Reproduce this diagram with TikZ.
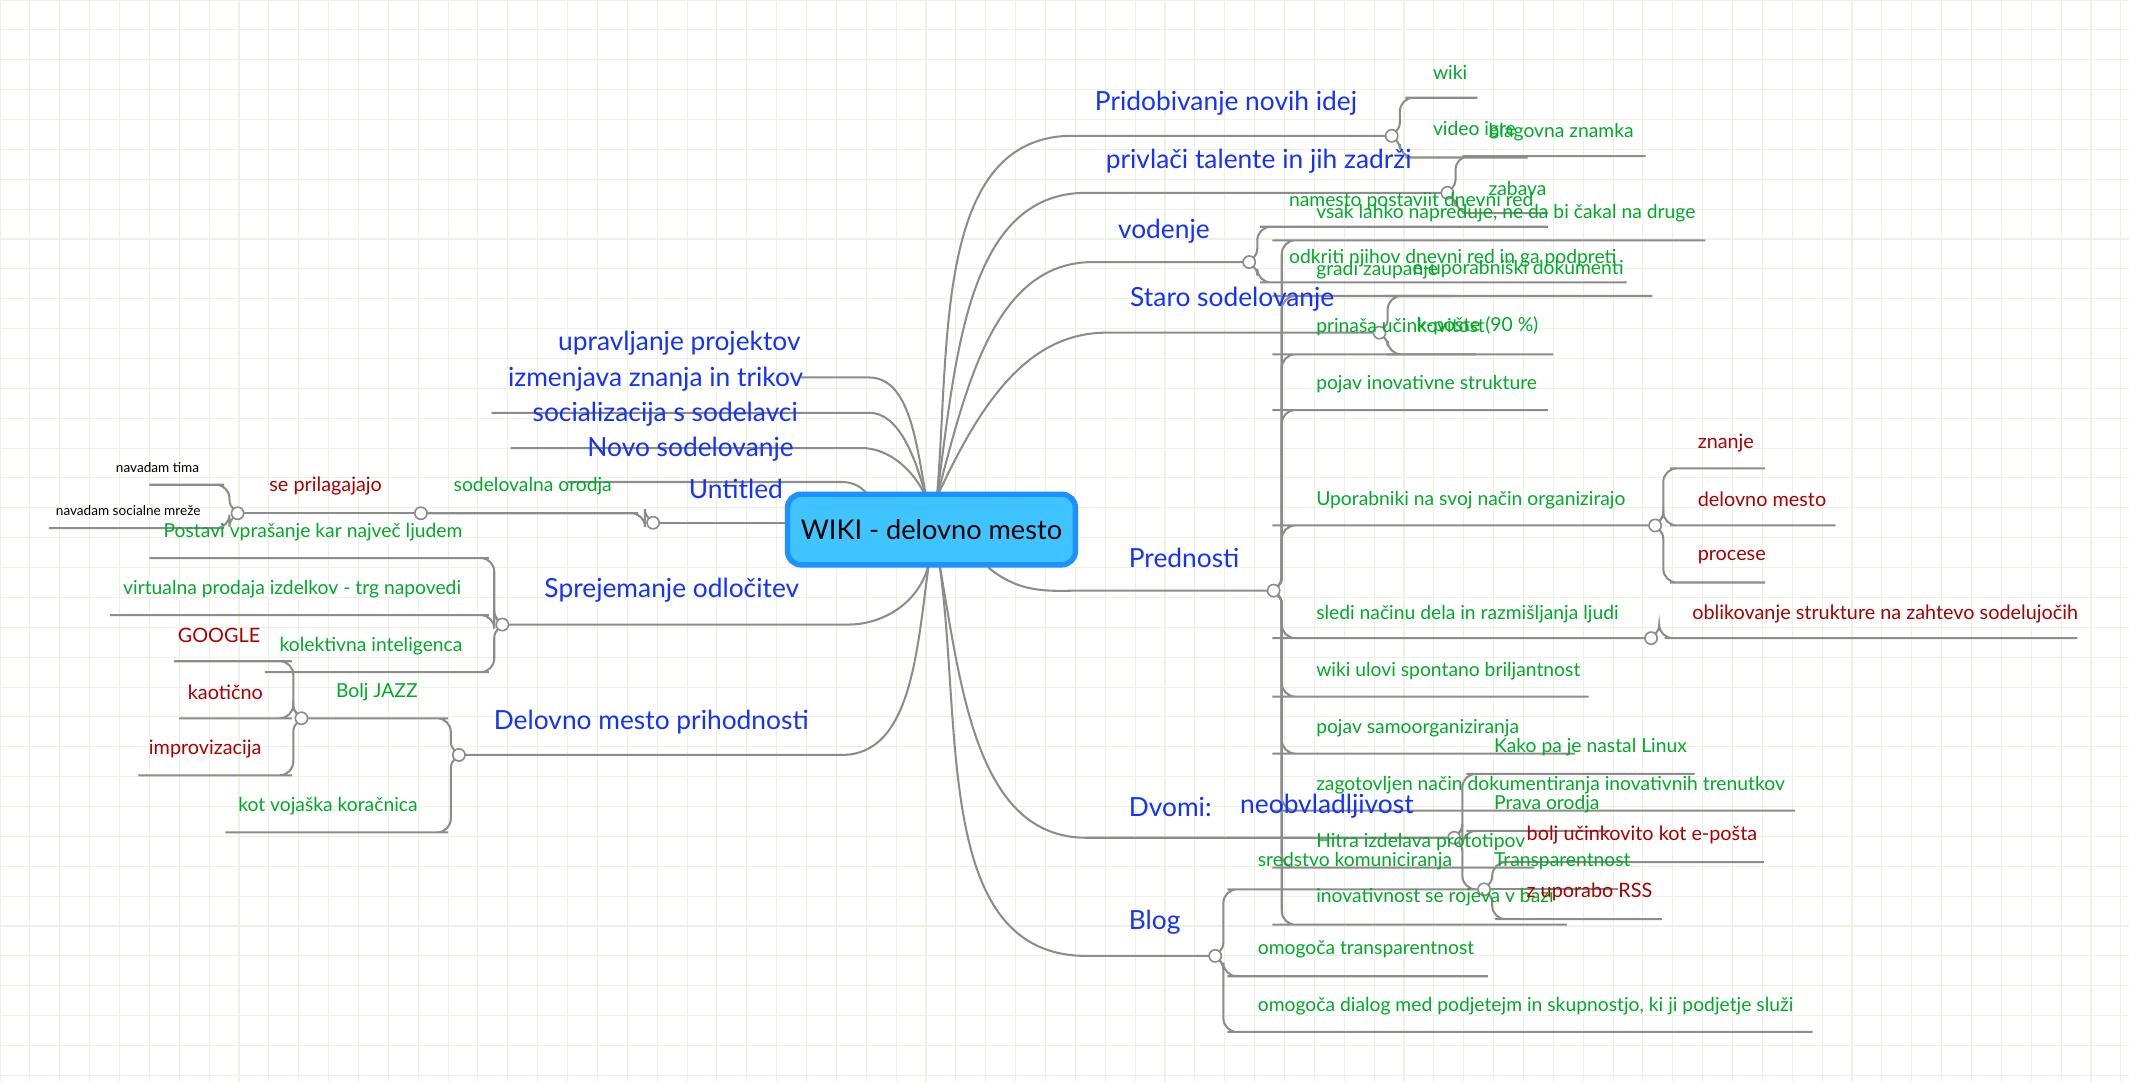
\documentclass[tikz,border=0pt]{standalone}
\usepackage{fontspec}
\setmainfont{Lato}
\definecolor{tb}{RGB}{20,50,255}
\definecolor{tg}{RGB}{0,170,40}
\definecolor{tr}{RGB}{170,0,0}
\definecolor{ln}{RGB}{140,140,140}
\definecolor{gridc}{RGB}{236,242,228}
\tikzset{
 conn/.style={draw=ln,line width=0.75pt,rounded corners=5pt},
 jn/.style={circle,draw=ln,fill=white,line width=0.6pt,minimum size=4.5pt,inner sep=0pt},
 blu/.style={text=tb,font=\fontsize{9.7}{11}\selectfont,inner sep=0pt},
 grn/.style={text=tg,font=\fontsize{7.1}{8}\selectfont,inner sep=0pt},
 red/.style={text=tr,font=\fontsize{7.3}{8}\selectfont,inner sep=0pt},
 blk/.style={text=black,font=\fontsize{5}{6}\selectfont,inner sep=0pt},
 wiki/.style={rounded corners=5pt,draw={rgb,255:red,30;green,144;blue,255},line width=2pt,fill={rgb,255:red,64;green,196;blue,255},minimum width=106pt,minimum height=26pt,font=\fontsize{10}{12}\selectfont}
}
\newcommand\R[4]{\draw[conn] (#1) -- ++(6,0) |- (#2,#4) -- (#3,#4);}
\newcommand\Lf[4]{\draw[conn] (#1) -- ++(-6,0) |- (#2,#4) -- (#3,#4);}
\newcommand\tw[4]{\node[#1,anchor=west] at (#2,#3) {#4};}
\newcommand\te[4]{\node[#1,anchor=east] at (#2,#3) {#4};}
\begin{document}
\begin{tikzpicture}[x=0.5pt,y=-0.5pt]
\useasboundingbox (0,0) rectangle (1568,797);
\fill[white] (0,0) rectangle (1568,797);
\foreach \i in {0,22,...,1568} \draw[gridc,line width=0.4pt] (\i,0) -- (\i,797);
\foreach \j in {0,22,...,797} \draw[gridc,line width=0.4pt] (0,\j) -- (1568,\j);
% junction coordinates
\coordinate (c1) at (1025,100); \coordinate (c2) at (1066,142); \coordinate (c3) at (920,193);
\coordinate (c4) at (1016,245); \coordinate (c5) at (938,435); \coordinate (c6) at (1071,617);
\coordinate (c7) at (895,704); \coordinate (c8) at (1219,387); \coordinate (c9) at (1216,470);
\coordinate (c10) at (1093,655);
\coordinate (u) at (481,385); \coordinate (s) at (310,378); \coordinate (n) at (175,378);
\coordinate (sp) at (370,460); \coordinate (dm) at (338,556); \coordinate (bj) at (222,529);
\coordinate (tl) at (682,366); \coordinate (tr) at (690,366); \coordinate (bl) at (684,416);
\coordinate (br) at (692,416); \coordinate (brr) at (728,418);
% right topics
\coordinate (e1) at (800,100); \coordinate (e2) at (810,142); \coordinate (e3) at (815,193);
\coordinate (e4) at (825,245); \coordinate (e5) at (805,435); \coordinate (e6) at (810,617);
\coordinate (e7) at (810,704);
\draw[conn] (tr) to[out=85,in=180] (e1) -- (c1);
\draw[conn] (tr) to[out=82,in=180] (e2) -- (c2);
\draw[conn] (tr) to[out=75,in=180] (e3) -- (c3);
\draw[conn] (tr) to[out=65,in=180] (e4) -- (c4);
\draw[conn] (brr) to[out=-40,in=180] (e5) -- (c5);
\draw[conn] (br) to[out=-80,in=180] (e6) -- (c6);
\draw[conn] (br) to[out=-82,in=180] (e7) -- (c7);
% left topics
\coordinate (p1) at (630,278); \coordinate (p2) at (630,304); \coordinate (p3) at (625,330);
\coordinate (p4) at (610,355); \coordinate (p6) at (615,460); \coordinate (p7) at (610,556);
\draw[conn] (tl) to[out=100,in=0] (p1) -- (590,278);
\draw[conn] (tl) to[out=105,in=0] (p2) -- (362,304);
\draw[conn] (tl) to[out=115,in=0] (p3) -- (376,330);
\draw[conn] (640,366) to[out=120,in=0] (p4) -- (418,355);
\draw[conn] (578,385) -- (u);
\draw[conn] (bl) to[out=-105,in=0] (p6) -- (sp);
\draw[conn] (bl) to[out=-98,in=0] (p7) -- (dm);
% right children
\R{c1}{1045}{1088}{72} \R{c1}{1045}{1125}{116}
\R{c2}{1087}{1212}{115} \R{c2}{1087}{1140}{157}
\R{c3}{938}{1140}{167} \R{c3}{938}{1198}{208}
\R{c4}{1030}{1217}{218} \R{c4}{1031}{1144}{261}
\foreach \y/\x in {177/1256,218/1069,261/1087,302/1140,513/1170,555/1160,597/1322,639/1130,681/1154}{\R{c5}{947}{\x}{\y}}
\R{c5}{947}{1219}{387} \R{c5}{947}{1216}{470}
\R{c8}{1240}{1300}{345} \R{c8}{1240}{1352}{387} \R{c8}{1240}{1300}{429}
\R{c9}{1236}{1530}{470}
\R{c6}{1090}{1248}{570} \R{c6}{1090}{1186}{612} \R{c6}{1090}{1093}{655}
\draw[conn] (c10) -- (1192,655);
\R{c10}{1115}{1299}{635} \R{c10}{1111}{1224}{677}
\R{c7}{914}{1080}{655} \R{c7}{914}{1096}{719} \R{c7}{914}{1335}{760}
% left children
\Lf{u}{460}{310}{378}
\draw[conn] (s) -- (n);
\Lf{n}{155}{110}{357} \Lf{n}{155}{36}{389}
\Lf{sp}{350}{110}{411} \Lf{sp}{350}{81}{453} \Lf{sp}{350}{195}{495}
\Lf{dm}{320}{222}{529} \Lf{dm}{320}{166}{613}
\Lf{bj}{205}{128}{487} \Lf{bj}{205}{132}{529} \Lf{bj}{205}{102}{571}
% junction circles
\foreach \c in {c1,c2,c3,c4,c5,c6,c7,c8,c9,c10,u,s,n,sp,dm,bj} \node[jn] (j\c) at (\c) {};
% center
\node[wiki] (w) at (686,390) {WIKI - delovno mesto};
% right texts
\tw{blu}{806}{76}{Pridobivanje novih idej}
\tw{blu}{814}{119}{privlači talente in jih zadrži}
\tw{blu}{823}{170}{vodenje}
\tw{blu}{832}{220}{Staro sodelovanje}
\tw{blu}{831}{411}{Prednosti}
\tw{blu}{831}{594}{Dvomi:}
\tw{blu}{913}{594}{neobvladljivost}
\tw{blu}{831}{679}{Blog}
\tw{grn}{1055}{53}{wiki}
\tw{grn}{1055}{96}{video igre}
\tw{grn}{1096}{97}{blagovna znamka}
\tw{grn}{1096}{139}{zabava}
\tw{grn}{949}{148}{namesto postaviit dnevni red}
\tw{grn}{949}{190}{odkriti njihov dnevni red in ga podpreti}
\tw{grn}{1040}{198}{e-uporabniški dokumenti}
\tw{grn}{1043}{240}{k-pošte (90 \%)}
\tw{grn}{969}{157}{vsak lahko napreduje, ne da bi čakal na druge}
\tw{grn}{969}{199}{gradi zaupanje}
\tw{grn}{969}{241}{prinaša učinkovitost}
\tw{grn}{969}{283}{pojav inovativne strukture}
\tw{grn}{969}{368}{Uporabniki na svoj način organizirajo}
\tw{grn}{969}{452}{sledi načinu dela in razmišljanja ljudi}
\tw{grn}{969}{494}{wiki ulovi spontano briljantnost}
\tw{grn}{969}{536}{pojav samoorganiziranja}
\tw{grn}{969}{578}{zagotovljen način dokumentiranja inovativnih trenutkov}
\tw{grn}{969}{620}{Hitra izdelava prototipov}
\tw{grn}{969}{661}{inovativnost se rojeva v bazi}
\tw{red}{1250}{326}{znanje}
\tw{red}{1250}{368}{delovno mesto}
\tw{red}{1250}{410}{procese}
\tw{red}{1246}{452}{oblikovanje strukture na zahtevo sodelujočih}
\tw{grn}{1100}{550}{Kako pa je nastal Linux}
\tw{grn}{1100}{592}{Prava orodja}
\tw{grn}{1100}{634}{Transparentnost}
\tw{red}{1124}{615}{bolj učinkovito kot e-pošta}
\tw{red}{1124}{657}{z uporabo RSS}
\tw{grn}{926}{634}{sredstvo komuniciranja}
\tw{grn}{926}{699}{omogoča transparentnost}
\tw{grn}{926}{741}{omogoča dialog med podjetejm in skupnostjo, ki ji podjetje služi}
% left texts
\te{blu}{590}{253}{upravljanje projektov}
\te{blu}{592}{279}{izmenjava znanja in trikov}
\te{blu}{588}{305}{socializacija s sodelavci}
\te{blu}{585}{331}{Novo sodelovanje}
\te{blu}{577}{360}{Untitled}
\te{blu}{589}{435}{Sprejemanje odločitev}
\te{blu}{596}{532}{Delovno mesto prihodnosti}
\te{grn}{451}{358}{sodelovalna orodja}
\tw{red}{198}{358}{se prilagajajo}
\te{blk}{147}{344}{navadam tima}
\te{blk}{148}{376}{navadam socialne mreže}
\te{grn}{341}{392}{Postavi vprašanje kar največ ljudem}
\te{grn}{340}{434}{virtualna prodaja izdelkov - trg napovedi}
\te{grn}{341}{476}{kolektivna inteligenca}
\te{grn}{308}{510}{Bolj JAZZ}
\te{grn}{308}{594}{kot vojaška koračnica}
\te{red}{192}{468}{GOOGLE}
\te{red}{194}{510}{kaotično}
\te{red}{193}{552}{improvizacija}
\end{tikzpicture}
\end{document}
